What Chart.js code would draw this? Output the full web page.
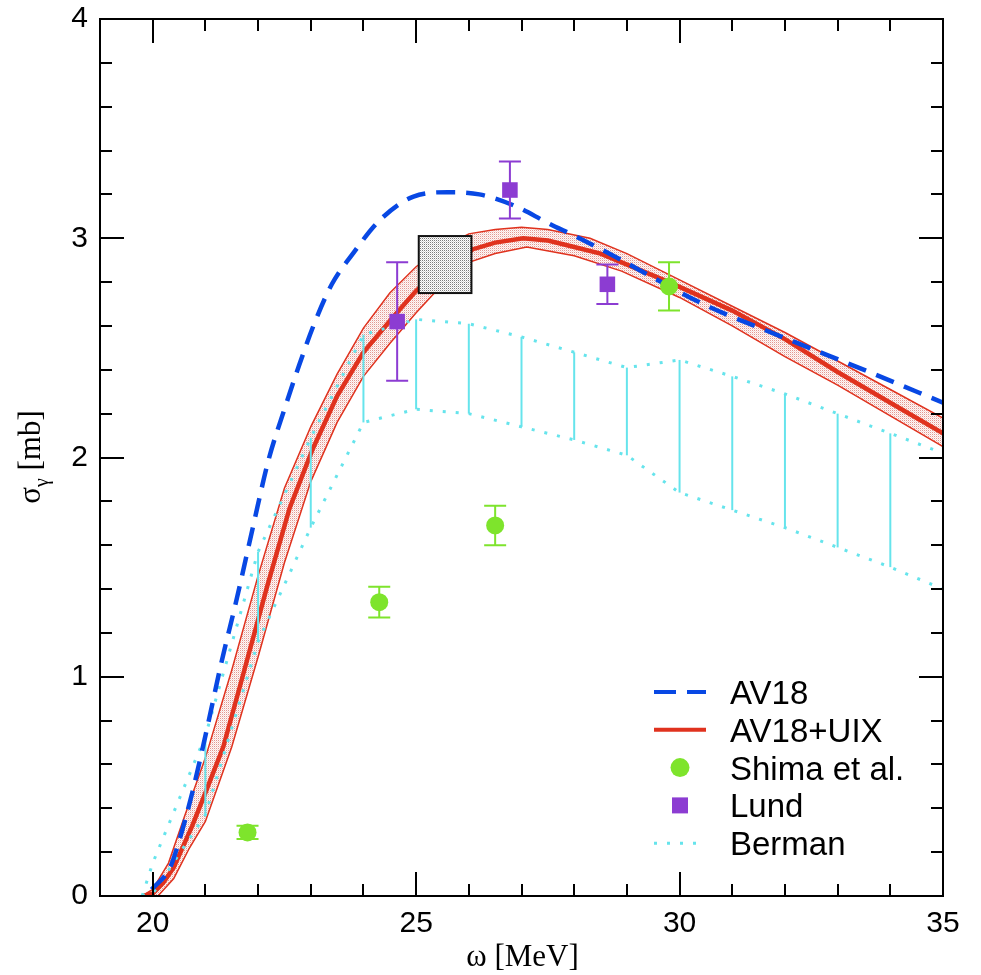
<!DOCTYPE html>
<html>
<head>
<meta charset="utf-8">
<title>sigma_gamma vs omega</title>
<script src="https://cdn.jsdelivr.net/npm/chart.js@4.4.1/dist/chart.umd.min.js"></script>
<style>
    html, body { margin: 0; padding: 0; background: #fff; }
    #wrap { position: relative; width: 981px; height: 975px; }
</style>
</head>
<body>
<div id="wrap"><canvas id="sigmaChart" width="981" height="975"></canvas></div>
<script>
// =====================================================
// DONNEES
// =====================================================

// axes
const xRange = [19, 35];
const yRange = [0, 4];
const xTickLabels = [20, 25, 30, 35];
const yTickLabels = [0, 1, 2, 3, 4];

// AV18 (tirets bleus)
const av18X = [19.98, 20.33, 20.5, 20.75, 21.0, 21.3, 21.6, 21.9, 22.2, 22.5, 22.75, 23.05, 23.4, 23.8, 24.3, 24.95, 25.6, 26.2, 26.85, 27.5, 28.1, 28.9, 29.5, 30.45, 32.05, 33.6, 35.0];
const av18Y = [0.03, 0.13, 0.25, 0.47, 0.73, 1.06, 1.36, 1.68, 1.99, 2.22, 2.40, 2.60, 2.79, 2.93, 3.08, 3.19, 3.21, 3.20, 3.15, 3.07, 3.00, 2.90, 2.82, 2.70, 2.54, 2.39, 2.25];

// AV18+UIX (trait rouge + bande)
const uixX = [19.8, 20.0, 20.2, 20.4, 20.75, 21.0, 21.34, 21.66, 22.17, 22.6, 23.04, 23.5, 24.0, 24.56, 25.0, 25.5, 26.08, 26.5, 27.03, 27.5, 28.0, 28.5, 28.9, 29.8, 31.0, 32.0, 33.0, 34.0, 35.0];
const uixY = [0.0, 0.01, 0.06, 0.13, 0.32, 0.47, 0.68, 0.96, 1.41, 1.77, 2.04, 2.28, 2.48, 2.64, 2.76, 2.87, 2.95, 2.98, 3.00, 2.99, 2.96, 2.93, 2.89, 2.80, 2.67, 2.54, 2.39, 2.25, 2.11];

const uixUpX = [19.8, 20.0, 20.3, 20.6, 21.0, 21.5, 22.0, 22.5, 23.0, 23.5, 24.0, 24.5, 25.0, 25.5, 26.0, 26.5, 27.0, 27.5, 28.3, 29.0, 30.0, 31.0, 32.0, 33.0, 34.0, 35.0];
const uixUpY = [0.0, 0.03, 0.15, 0.36, 0.63, 1.03, 1.46, 1.86, 2.14, 2.38, 2.59, 2.75, 2.87, 2.96, 3.02, 3.04, 3.05, 3.04, 3.00, 2.93, 2.81, 2.69, 2.57, 2.44, 2.31, 2.18];

const uixLoX = [19.8, 20.1, 20.4, 20.7, 21.0, 21.5, 22.0, 22.5, 23.0, 23.5, 24.0, 24.5, 25.0, 25.5, 26.0, 26.5, 27.1, 28.0, 28.9, 30.0, 31.0, 32.0, 33.0, 34.0, 35.0];
const uixLoY = [0.0, 0.0, 0.08, 0.22, 0.34, 0.68, 1.09, 1.52, 1.89, 2.16, 2.37, 2.52, 2.66, 2.79, 2.89, 2.93, 2.96, 2.92, 2.85, 2.73, 2.60, 2.46, 2.33, 2.19, 2.05];

// Shima et al. (cercles verts)
const shimaX = [21.8, 24.3, 26.5, 29.8];
const shimaY = [0.29, 1.34, 1.69, 2.78];
const shimaErr = [0.03, 0.07, 0.09, 0.11];

// Lund (carres violets)
const lundX = [24.64, 26.78, 28.63];
const lundY = [2.62, 3.22, 2.79];
const lundErr = [0.27, 0.13, 0.09];

// Berman (pointilles cyan, bornes haute et basse)
const bermanX = [19.8, 20, 21, 22, 23, 24, 25, 26, 27, 28, 29, 30, 31, 32, 33, 34, 35];
const bermanUpY = [0.0, 0.15, 0.73, 1.57, 2.09, 2.56, 2.63, 2.61, 2.55, 2.48, 2.41, 2.445, 2.37, 2.29, 2.20, 2.11, 2.02];
const bermanLoY = [0.0, 0.01, 0.37, 1.16, 1.68, 2.16, 2.22, 2.20, 2.14, 2.08, 2.01, 1.84, 1.76, 1.68, 1.59, 1.50, 1.40];
const bermanBarX = [21, 22, 23, 24, 25, 26, 27, 28, 29, 30, 31, 32, 33, 34];

// boite grise
const boxX = [25.05, 26.05];
const boxY = [2.75, 3.01];

// =====================================================
// STYLE
// =====================================================

const colors = {
    blue: '#0848e4',
    red: '#e0321e',
    green: '#7ee42c',
    purple: '#8c3cd2',
    cyan: '#66e4ec',
    black: '#000000'
};

const sansFont = "'Liberation Sans', Arial, sans-serif";
const serifFont = "'Liberation Serif', 'DejaVu Serif', serif";

const canvas = document.getElementById('sigmaChart');
const ctx0 = canvas.getContext('2d');

function stipple(dark, light, mid) {
    const c = document.createElement('canvas');
    c.width = 2;
    c.height = 2;
    const g = c.getContext('2d');
    g.fillStyle = light;
    g.fillRect(0, 0, 2, 2);
    g.fillStyle = dark;
    g.fillRect(0, 0, 1, 1);
    g.fillStyle = mid;
    g.fillRect(1, 1, 1, 1);
    return ctx0.createPattern(c, 'repeat');
}

const bandPattern = stipple('#e29892', '#fff8f7', '#f6dcd9');
const boxPattern = stipple('#7c7c7c', '#ffffff', '#d4d4d4');

const pts = (xs, ys) => xs.map((x, i) => ({ x: x, y: ys[i] }));

// =====================================================
// PLUGINS
// =====================================================

// barres d'erreur des points experimentaux
const errorBars = {
    id: 'errorBars',
    beforeDatasetDraw(chart, args) {
        const ds = chart.data.datasets[args.index];
        if (!ds.errors) return;
        const { ctx, scales: { x, y } } = chart;
        ctx.save();
        ctx.strokeStyle = ds.backgroundColor;
        ctx.lineWidth = 2;
        ds.data.forEach((p, i) => {
            const px = x.getPixelForValue(p.x);
            const top = y.getPixelForValue(p.y + ds.errors[i]);
            const bot = y.getPixelForValue(p.y - ds.errors[i]);
            ctx.beginPath();
            ctx.moveTo(px, top); ctx.lineTo(px, bot);
            ctx.moveTo(px - 11, top); ctx.lineTo(px + 11, top);
            ctx.moveTo(px - 11, bot); ctx.lineTo(px + 11, bot);
            ctx.stroke();
        });
        ctx.restore();
    }
};

// barres verticales de Berman + boite grise
const extraMarks = {
    id: 'extraMarks',
    beforeDatasetDraw(chart, args) {
        const ds = chart.data.datasets[args.index];
        const { ctx, scales: { x, y } } = chart;
        if (ds.bermanBars) {
            ctx.save();
            ctx.strokeStyle = colors.cyan;
            ctx.lineWidth = 2;
            bermanBarX.forEach(bx => {
                const i = bermanX.indexOf(bx);
                const px = x.getPixelForValue(bx);
                ctx.beginPath();
                ctx.moveTo(px, y.getPixelForValue(bermanUpY[i]));
                ctx.lineTo(px, y.getPixelForValue(bermanLoY[i]));
                ctx.stroke();
            });
            ctx.restore();
        }
    },
    afterDatasetDraw(chart, args) {
        const ds = chart.data.datasets[args.index];
        if (!ds.drawBox) return;
        const { ctx, scales: { x, y } } = chart;
        const x0 = x.getPixelForValue(boxX[0]);
        const x1 = x.getPixelForValue(boxX[1]);
        const y0 = y.getPixelForValue(boxY[1]);
        const y1 = y.getPixelForValue(boxY[0]);
        ctx.save();
        ctx.fillStyle = boxPattern;
        ctx.fillRect(x0, y0, x1 - x0, y1 - y0);
        ctx.strokeStyle = '#111';
        ctx.lineWidth = 2;
        ctx.strokeRect(x0, y0, x1 - x0, y1 - y0);
        ctx.restore();
    }
};

// cadre + graduations interieures sur les 4 cotes
const frameTicks = {
    id: 'frameTicks',
    afterDraw(chart) {
        const { ctx, chartArea: a, scales: { x, y } } = chart;
        ctx.save();
        ctx.strokeStyle = colors.black;
        ctx.lineWidth = 2;
        x.ticks.forEach(t => {
            const v = Math.round(t.value * 1000) / 1000;
            const px = Math.round(x.getPixelForValue(v));
            const len = xTickLabels.includes(v) ? 24 : 12;
            ctx.beginPath();
            ctx.moveTo(px, a.bottom); ctx.lineTo(px, a.bottom - len);
            ctx.moveTo(px, a.top); ctx.lineTo(px, a.top + len);
            ctx.stroke();
        });
        y.ticks.forEach(t => {
            const v = Math.round(t.value * 1000) / 1000;
            const py = Math.round(y.getPixelForValue(v));
            const len = yTickLabels.includes(v) ? 24 : 12;
            ctx.beginPath();
            ctx.moveTo(a.left, py); ctx.lineTo(a.left + len, py);
            ctx.moveTo(a.right, py); ctx.lineTo(a.right - len, py);
            ctx.stroke();
        });
        ctx.strokeRect(a.left, a.top, a.right - a.left, a.bottom - a.top);
        ctx.restore();
    }
};

// titres des axes (avec indice gamma)
const axisTitles = {
    id: 'axisTitles',
    afterDraw(chart) {
        const { ctx, chartArea: a } = chart;
        ctx.save();
        ctx.fillStyle = colors.black;
        ctx.textBaseline = 'alphabetic';

        // omega [MeV]
        ctx.font = '31px ' + serifFont;
        ctx.textAlign = 'center';
        ctx.fillText('\u03C9 [MeV]', (a.left + a.right) / 2 + 1, 966);

        // sigma_gamma [mb], vertical
        ctx.translate(40, 457);
        ctx.rotate(-Math.PI / 2);
        ctx.textAlign = 'left';
        ctx.font = '31px ' + serifFont;
        const wS = ctx.measureText('\u03C3').width;
        ctx.font = '20px ' + serifFont;
        const wG = ctx.measureText('\u03B3').width;
        ctx.font = '31px ' + serifFont;
        const wB = ctx.measureText(' [mb]').width;
        let cx = -(wS + wG + wB) / 2;
        ctx.fillText('\u03C3', cx, 0);
        cx += wS;
        ctx.font = '20px ' + serifFont;
        ctx.fillText('\u03B3', cx, 8);
        cx += wG;
        ctx.font = '31px ' + serifFont;
        ctx.fillText(' [mb]', cx, 0);
        ctx.restore();
    }
};

// legende dans le coin bas-droit
const legendItems = [
    { text: 'AV18', kind: 'line', color: colors.blue, dash: [22, 11], width: 4 },
    { text: 'AV18+UIX', kind: 'line', color: colors.red, dash: [], width: 4 },
    { text: 'Shima et al.', kind: 'circle', color: colors.green },
    { text: 'Lund', kind: 'rect', color: colors.purple },
    { text: 'Berman', kind: 'line', color: colors.cyan, dash: [3, 10], width: 3 }
];

const insideLegend = {
    id: 'insideLegend',
    afterDraw(chart) {
        const ctx = chart.ctx;
        const x0 = 654, x1 = 706, xt = 730, top = 692, step = 37.8;
        ctx.save();
        legendItems.forEach((item, i) => {
            const yy = top + i * step;
            if (item.kind === 'line') {
                ctx.strokeStyle = item.color;
                ctx.lineWidth = item.width;
                ctx.setLineDash(item.dash);
                ctx.beginPath();
                ctx.moveTo(x0, yy);
                ctx.lineTo(x1, yy);
                ctx.stroke();
                ctx.setLineDash([]);
            } else if (item.kind === 'circle') {
                ctx.fillStyle = item.color;
                ctx.beginPath();
                ctx.arc((x0 + x1) / 2, yy, 9.5, 0, Math.PI * 2);
                ctx.fill();
            } else {
                ctx.fillStyle = item.color;
                ctx.fillRect((x0 + x1) / 2 - 8, yy - 8, 16, 16);
            }
            ctx.fillStyle = colors.black;
            ctx.font = '33px ' + sansFont;
            ctx.textAlign = 'left';
            ctx.textBaseline = 'alphabetic';
            ctx.fillText(item.text, xt, yy + 12);
        });
        ctx.restore();
    }
};

// =====================================================
// GRAPHIQUE
// =====================================================

const chart = new Chart(canvas, {
    type: 'line',
    data: {
        datasets: [
            {
                label: 'Shima et al.',
                data: pts(shimaX, shimaY),
                errors: shimaErr,
                showLine: false,
                pointStyle: 'circle',
                pointRadius: 9,
                pointBorderWidth: 0,
                backgroundColor: colors.green,
                borderColor: colors.green
            },
            {
                label: 'Lund',
                data: pts(lundX, lundY),
                errors: lundErr,
                showLine: false,
                pointStyle: 'rect',
                pointRadius: 11,
                pointBorderWidth: 0,
                backgroundColor: colors.purple,
                borderColor: colors.purple
            },
            {
                label: 'AV18',
                data: pts(av18X, av18Y),
                borderColor: colors.blue,
                borderWidth: 4.5,
                borderDash: [19, 11],
                cubicInterpolationMode: 'monotone',
                pointRadius: 0,
                fill: false
            },
            {
                label: 'Berman',
                data: pts(bermanX, bermanUpY),
                bermanBars: true,
                borderColor: colors.cyan,
                borderWidth: 3,
                borderDash: [3, 10],
                pointRadius: 0,
                fill: false
            },
            {
                label: 'Berman (bas)',
                data: pts(bermanX, bermanLoY),
                borderColor: colors.cyan,
                borderWidth: 3,
                borderDash: [3, 10],
                pointRadius: 0,
                fill: false
            },
            {
                label: 'AV18+UIX',
                data: pts(uixX, uixY),
                drawBox: true,
                borderColor: colors.red,
                borderWidth: 4.5,
                pointRadius: 0,
                fill: false
            },
            {
                label: 'AV18+UIX (haut)',
                data: pts(uixUpX, uixUpY),
                borderColor: colors.red,
                borderWidth: 1.5,
                pointRadius: 0,
                fill: false
            },
            {
                label: 'AV18+UIX (bas)',
                data: pts(uixLoX, uixLoY),
                borderColor: colors.red,
                borderWidth: 1.5,
                pointRadius: 0,
                backgroundColor: bandPattern,
                fill: '-1'
            }
        ]
    },
    options: {
        responsive: false,
        devicePixelRatio: 1,
        animation: false,
        events: [],
        layout: {
            padding: { left: 0, top: 19, right: 38, bottom: 0 }
        },
        plugins: {
            legend: { display: false },
            tooltip: { enabled: false }
        },
        scales: {
            x: {
                type: 'linear',
                min: xRange[0],
                max: xRange[1],
                afterFit: s => {
                    s.height = 79;
                    s.paddingLeft = 0;
                    s.paddingRight = 0;
                },
                grid: { display: false, drawTicks: false },
                border: { display: false },
                ticks: {
                    stepSize: 1,
                    autoSkip: false,
                    maxRotation: 0,
                    padding: 10,
                    color: colors.black,
                    font: { family: sansFont, size: 30 },
                    callback: v => xTickLabels.includes(Math.round(v * 1000) / 1000) ? String(v) : ''
                }
            },
            y: {
                type: 'linear',
                min: yRange[0],
                max: yRange[1],
                afterFit: s => {
                    s.width = 100;
                    s.paddingTop = 0;
                    s.paddingBottom = 0;
                },
                grid: { display: false, drawTicks: false },
                border: { display: false },
                ticks: {
                    stepSize: 0.2,
                    autoSkip: false,
                    padding: 12,
                    color: colors.black,
                    font: { family: sansFont, size: 30 },
                    callback: v => {
                        const r = Math.round(v * 1000) / 1000;
                        return yTickLabels.includes(r) ? String(r) : '';
                    }
                }
            }
        }
    },
    plugins: [errorBars, extraMarks, frameTicks, axisTitles, insideLegend]
});
</script>
</body>
</html>
